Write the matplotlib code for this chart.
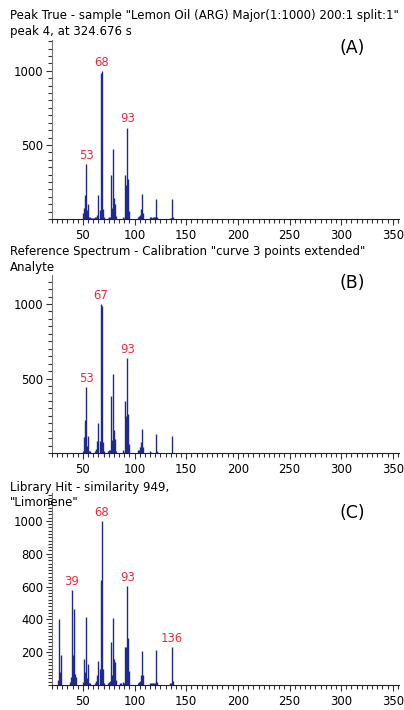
import matplotlib
matplotlib.use("Agg")
import matplotlib.pyplot as plt
from matplotlib.ticker import MultipleLocator

plt.rcParams['font.family'] = ['DejaVu Sans']

# ---- data ----
mz_a = [50, 51, 52, 53, 54, 55, 56, 57, 58, 59, 60, 61, 62, 63, 64, 65, 66, 67, 68, 69, 70,
        74, 75, 76, 77, 78, 79, 80, 81, 82, 89, 90, 91, 92, 93, 94, 95,
        103, 104, 105, 106, 107, 108, 115, 116, 117, 118, 119, 120, 121, 122, 134, 135, 136, 137]
int_a = [40, 75, 160, 370, 60, 100, 15, 15, 10, 10, 10, 10, 12, 15, 25, 165, 60, 985, 1000, 70, 15,
         10, 12, 15, 300, 75, 475, 140, 100, 20, 15, 10, 300, 230, 617, 268, 55,
         12, 20, 30, 65, 167, 40, 15, 12, 10, 15, 12, 15, 137, 15, 10, 10, 137, 15]

mz_b = [50, 51, 52, 53, 54, 55, 56, 57, 62, 63, 64, 65, 66, 67, 68, 69, 70,
        74, 75, 76, 77, 78, 79, 80, 81, 82, 89, 90, 91, 92, 93, 94, 95,
        103, 104, 105, 106, 107, 108, 115, 116, 121, 122, 136]
int_b = [15, 105, 221, 445, 50, 116, 15, 15, 15, 30, 80, 203, 80, 1000, 985, 72, 15,
         15, 20, 20, 382, 90, 530, 154, 95, 15, 20, 10, 351, 250, 635, 264, 60,
         20, 20, 40, 76, 161, 40, 15, 10, 130, 12, 114]

mz_c = [26, 27, 28, 29, 37, 38, 39, 40, 41, 42, 43, 50, 51, 52, 53, 54, 55, 56, 57,
        62, 63, 64, 65, 66, 67, 68, 69, 70, 74, 75, 76, 77, 78, 79, 80, 81, 82,
        86, 87, 89, 90, 91, 92, 93, 94, 95, 103, 104, 105, 106, 107, 108,
        115, 116, 117, 118, 119, 120, 121, 122, 134, 135, 136, 137]
int_c = [30, 400, 80, 180, 20, 50, 580, 180, 465, 70, 50, 20, 160, 80, 415, 40, 125, 15, 10,
         15, 25, 60, 145, 100, 640, 1000, 95, 15, 15, 20, 25, 265, 60, 410, 160, 140, 30,
         10, 15, 20, 10, 230, 230, 605, 285, 85, 15, 20, 25, 60, 205, 60,
         15, 15, 10, 15, 12, 15, 213, 20, 10, 15, 232, 25]

labels_a = [53, 68, 93]
labels_b = [53, 67, 93]
labels_c = [39, 68, 93, 136]

titles = [
    ['Peak True - sample "Lemon Oil (ARG) Major(1:1000) 200:1 split:1"', 'peak 4, at 324.676 s'],
    ['Reference Spectrum - Calibration "curve 3 points extended"', 'Analyte'],
    ['Library Hit - similarity 949,', '"Limonene"'],
]
tags = ['(A)', '(B)', '(C)']

# ---- layout ----
W, H = 404, 710
fig = plt.figure(figsize=(W / 100, H / 100), dpi=100)

def fx(px):
    return px / W

def fy(py):
    return 1 - py / H

# (left, top, right, bottom) in pixels
boxes = [(52, 40, 399, 219), (52, 275, 399, 453), (52, 493, 399, 685)]
ytops = [1208, 1195, 1170]
ymaj = [500, 500, 200]
ymin = [50, 50, 20]
title_y = [(16, 32), (252, 268), (487, 502)]
tag_y = [48, 283, 513]

blue = '#1f2a8e'
red = '#f0283a'

datasets = [(mz_a, int_a, labels_a), (mz_b, int_b, labels_b), (mz_c, int_c, labels_c)]

for i, (mz, inten, labs) in enumerate(datasets):
    l, t, r, b = boxes[i]
    ax = fig.add_axes([fx(l), fy(b), fx(r) - fx(l), fy(t) - fy(b)])
    ax.vlines(mz, 0, inten, color=blue, lw=1.0)
    ax.set_xlim(20, 356)
    ax.set_ylim(0, ytops[i])
    ax.xaxis.set_major_locator(MultipleLocator(50))
    ax.xaxis.set_minor_locator(MultipleLocator(5))
    ax.yaxis.set_major_locator(MultipleLocator(ymaj[i]))
    ax.yaxis.set_minor_locator(MultipleLocator(ymin[i]))
    yt = [v for v in range(ymaj[i], 1001, ymaj[i])]
    ax.set_yticks(yt)
    ax.set_yticklabels([str(v) for v in yt])
    ax.spines['top'].set_visible(False)
    ax.spines['right'].set_visible(False)
    ax.spines['left'].set_color('#777777')
    ax.spines['bottom'].set_color('#222222')
    ax.tick_params(axis='both', which='major', labelsize=8.4, length=4, width=0.8,
                   color='#333333')
    ax.tick_params(axis='y', which='major', pad=2)
    ax.tick_params(axis='x', which='major', pad=3.5)
    ax.tick_params(axis='both', which='minor', length=3, width=0.8, color='#333333')
    ax.patch.set_alpha(0)
    for m in labs:
        v = inten[mz.index(m)]
        ax.annotate(str(m), (m, v), xytext=(0, 1.5), textcoords='offset points',
                    ha='center', va='bottom', color=red, fontsize=8.4)
    fig.text(fx(10), fy(title_y[i][0]), titles[i][0], ha='left', va='center', fontsize=8.45)
    fig.text(fx(10), fy(title_y[i][1]), titles[i][1], ha='left', va='center', fontsize=8.45)
    fig.text(fx(352), fy(tag_y[i]), tags[i], ha='center', va='center', fontsize=12.5)

fig.savefig('out.png', dpi=100)
